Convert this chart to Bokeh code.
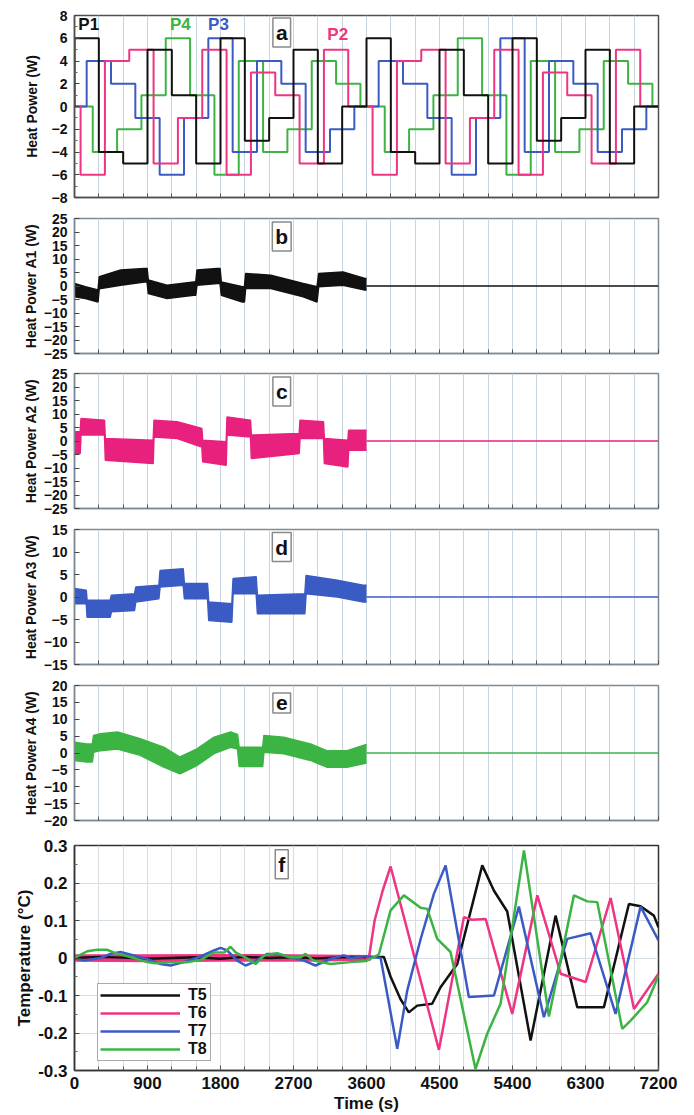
from bokeh.plotting import figure
from bokeh.models import FixedTicker, Label, Legend, LegendItem, PrintfTickFormatter, Range1d
from bokeh.layouts import column
from bokeh.embed import file_html
from bokeh.resources import INLINE

FONT = "Liberation Sans"
BLACK = "#111111"
PINK = "#ee3482"
BLUE = "#3b5bc4"
GREEN = "#3cb444"

# ---------------- data ----------------
# panel a: step heat-power schedules (W), one level per 300 s, each source delayed
step_seconds = 300
p1_levels = [6, -4, -5, 5, 1, -5, 6, -3, -1, 5, -5, 0, 6, -4, -5, 5, 1, -5, 6, -3, -1, 5, -5, 0]
p2_levels = [-6, 4, 5, -5, -1, 5, -6, 3, 1, -5, 5, 0, -6, 4, 5, -5, -1, 5, -6, 3, 1, -5, 5, 0]
p3_levels = [4, 2, -1, -6, -1, 6, -4, 4, 2, -4, -2, 0, 4, 2, -1, -6, -1, 6, -4, 4, 2, -4, -2, 0]
p4_levels = [-4, -2, 1, 6, 1, -6, 4, -4, -2, 4, 2, 0, -4, -2, 1, 6, 1, -6, 4, -4, -2, 4, 2, 0]
p_delays = [0, 75, 150, 225]

# panels b-e: envelope (lower / upper) of the noisy actuator heat power (W)
a1_t = [0, 135, 290, 305, 570, 860, 895, 910, 1140, 1470, 1495, 1510, 1760, 1795, 1810, 2070, 2095, 2110, 2420, 2820, 2990, 3010, 3310, 3580, 3600]
a1_lo = [-4.0, -4.6, -5.9, -1.0, 0.3, 1.5, 1.5, -2.8, -4.6, -3.4, -3.4, 0.3, 0.9, 0.9, -3.4, -5.9, -5.9, -0.9, -0.9, -4.0, -5.9, -0.3, 0.3, -1.5, -1.5]
a1_hi = [0.9, -0.3, -1.5, 3.4, 5.9, 6.5, 6.5, 2.2, 0.3, 1.5, 1.5, 5.9, 6.5, 6.5, 1.5, -0.3, -0.3, 4.6, 4.0, 0.9, -0.3, 4.6, 5.2, 2.8, 2.8]

a2_t = [0, 70, 80, 370, 380, 970, 980, 1266, 1570, 1580, 1870, 1880, 2170, 2180, 2770, 2780, 3070, 3080, 3370, 3380, 3600]
a2_lo = [-4.6, -4.6, 2.2, 2.2, -7.1, -8.3, 1.5, 0.9, -2.2, -7.7, -9.0, 2.2, 1.5, -6.5, -4.6, 0.9, 0.9, -8.3, -9.6, -3.4, -3.4]
a2_hi = [3.4, 3.4, 8.3, 7.7, 0.9, 0.3, 7.7, 7.1, 4.6, 0.3, -0.3, 8.9, 7.7, 2.2, 2.8, 7.7, 7.1, 0.9, 0.3, 4.0, 4.0]

a3_t = [0, 145, 155, 440, 455, 740, 755, 1040, 1055, 1340, 1355, 1640, 1655, 1940, 1955, 2240, 2255, 2840, 2855, 3240, 3560, 3600]
a3_lo = [-1.5, -1.5, -4.5, -4.5, -3.3, -3.0, -1.1, -0.4, 2.2, 2.6, -0.4, -0.4, -5.2, -5.6, 0.7, 0.7, -3.7, -3.7, 0.7, 0.0, -1.1, -1.1]
a3_hi = [1.9, 1.5, -0.7, -0.7, 0.4, 0.7, 2.2, 2.6, 5.9, 6.3, 3.0, 3.0, -1.1, -1.5, 4.1, 4.5, 0.4, 0.7, 4.8, 3.7, 2.6, 2.6]

a4_t = [0, 150, 220, 235, 320, 530, 810, 1100, 1300, 1510, 1720, 1925, 2010, 2030, 2320, 2335, 2580, 2910, 3110, 3360, 3600]
a4_lo = [-2.2, -2.7, -2.7, 0.2, 0.7, 1.2, -0.7, -4.2, -6.2, -3.7, -0.2, 1.7, 1.2, -4.0, -4.0, 0.2, -0.2, -2.2, -4.2, -4.2, -3.0]
a4_hi = [3.2, 2.7, 2.7, 5.2, 5.7, 6.2, 4.2, 1.7, -1.2, 1.2, 4.7, 6.2, 5.5, 1.7, 1.7, 5.2, 4.7, 2.7, 0.7, 0.7, 2.5]

off_t = [3600, 7200]
off_v = [0, 0]

# panel f: temperatures (degC)
t5_t = [0, 300, 600, 900, 1200, 1500, 1800, 2100, 2400, 2700, 3000, 3300, 3600, 3814, 3897, 4020, 4122, 4225, 4410, 4513, 4719, 5027, 5170, 5335, 5623, 5931, 6198, 6527, 6835, 6979, 7143, 7200]
t5_v = [0.0, 0.003, 0.001, -0.002, 0.0, 0.002, -0.002, 0.003, 0.0, 0.002, -0.001, 0.002, 0.003, 0.003, -0.05, -0.11, -0.145, -0.127, -0.122, -0.078, -0.016, 0.247, 0.18, 0.124, -0.22, 0.113, -0.131, -0.131, 0.144, 0.138, 0.113, 0.082]

t6_band_t = [0, 900, 1800, 2700, 3650]
t6_band_lo = [-0.01, -0.011, -0.01, -0.01, -0.008]
t6_band_hi = [0.01, 0.01, 0.011, 0.01, 0.008]
t6_t = [3600, 3630, 3700, 3800, 3897, 4493, 4801, 4900, 5069, 5397, 5706, 5994, 6302, 6610, 6898, 7200]
t6_v = [0.0, 0.0, 0.10, 0.18, 0.244, -0.245, 0.109, 0.102, 0.104, -0.149, 0.167, -0.042, -0.064, 0.16, -0.136, -0.042]

t7_t = [0, 115, 320, 444, 567, 732, 896, 1061, 1184, 1348, 1554, 1719, 1801, 1883, 2006, 2109, 2212, 2376, 2500, 2664,
        2828, 2972, 3157, 3321, 3403, 3600, 3774, 3979, 4102, 4267, 4431, 4575, 4862, 5171, 5479, 5787, 6075, 6363, 6671, 6979, 7200]
t7_v = [0.0, -0.007, 0.0, 0.011, 0.016, 0.007, -0.003, -0.016, -0.02, -0.011, 0.004, 0.02, 0.027, 0.02, -0.007, -0.02, -0.011, 0.011, 0.011, 0.002,
        -0.007, -0.02, -0.002, 0.007, 0.0, 0.005, 0.0, -0.242, -0.087, 0.05, 0.171, 0.247, -0.104, -0.1, 0.137, -0.158, 0.051, 0.066, -0.149, 0.137, 0.047]

t8_t = [0, 156, 280, 400, 506, 732, 896, 1000, 1225, 1400, 1554, 1719, 1850, 1924, 1986, 2120, 2233, 2340, 2500, 2650,
        2788, 2849, 2950, 3157, 3403, 3600, 3753, 3897, 4061, 4267, 4349, 4472, 4636, 4944, 5088, 5253, 5541, 5849, 6157, 6322,
        6445, 6753, 6856, 7061, 7200]
t8_v = [0.0, 0.018, 0.022, 0.022, 0.013, 0.0, -0.011, -0.014, -0.011, -0.011, -0.005, 0.015, 0.015, 0.03, 0.015, 0.0, -0.016, 0.007, 0.013, 0.002,
        0.002, 0.011, -0.007, -0.016, -0.011, -0.008, 0.01, 0.127, 0.167, 0.134, 0.131, 0.051, 0.016, -0.296, -0.202, -0.122, 0.287, -0.156, 0.167, 0.151,
        0.149, -0.189, -0.167, -0.118, -0.047]

x_major = [0, 900, 1800, 2700, 3600, 4500, 5400, 6300, 7200]
x_labels = ["0", "900", "1800", "2700", "3600", "4500", "5400", "6300", "7200"]

# ---------------- helpers ----------------
T_END = 7200
grid_ticks = list(range(0, T_END + 1, 300))


def staircase(levels, delay):
    xs, ys = [0], [0]
    for k, v in enumerate(levels):
        t = delay + step_seconds * k
        if t >= T_END:
            break
        xs.append(t)
        ys.append(v)
    xs.append(T_END)
    ys.append(ys[-1])
    return xs, ys


def panel(frame_h, ylo, yhi, ymaj, ymin, ylabel, top, bottom, outline, show_x=False, lab_standoff=6):
    p = figure(frame_width=584, frame_height=frame_h,
               x_range=Range1d(0, T_END), y_range=Range1d(ylo, yhi),
               output_backend="svg", toolbar_location=None,
               min_border_left=74, min_border_right=26,
               min_border_top=top, min_border_bottom=bottom)
    p.background_fill_color = "white"
    p.border_fill_color = "white"
    p.outline_line_color = outline
    p.outline_line_width = 1.5
    p.xgrid.ticker = FixedTicker(ticks=grid_ticks)
    p.xgrid.grid_line_color = "#c8d5de"
    p.xgrid.grid_line_width = 1
    p.ygrid.visible = False

    xa = p.xaxis[0]
    xa.axis_line_color = outline
    xa.axis_line_width = 1.5
    xa.major_tick_in = 5
    xa.major_tick_out = 0
    xa.minor_tick_in = 4
    xa.minor_tick_out = 0
    xa.major_tick_line_color = "#444444"
    xa.minor_tick_line_color = "#555555"
    if show_x:
        xa.ticker = FixedTicker(ticks=x_major, minor_ticks=grid_ticks)
        xa.major_label_text_font = FONT
        xa.major_label_text_font_style = "bold"
        xa.major_label_text_font_size = "17px"
        xa.major_label_text_color = "#111111"
        xa.major_label_standoff = 6
        xa.major_label_overrides = {v: s for v, s in zip(x_major, x_labels)}
        xa.axis_label = "Time (s)"
        xa.axis_label_text_font = FONT
        xa.axis_label_text_font_style = "bold"
        xa.axis_label_text_font_size = "17px"
        xa.axis_label_text_color = "#111111"
        xa.axis_label_standoff = 2
    else:
        xa.ticker = FixedTicker(ticks=[], minor_ticks=grid_ticks)
        xa.major_label_standoff = 0

    ya = p.yaxis[0]
    ya.ticker = FixedTicker(ticks=ymaj, minor_ticks=ymin)
    ya.axis_line_color = outline
    ya.axis_line_width = 1.5
    ya.major_tick_in = 5
    ya.major_tick_out = 0
    ya.minor_tick_in = 3
    ya.minor_tick_out = 0
    ya.major_tick_line_color = "#444444"
    ya.minor_tick_line_color = "#666666"
    ya.major_label_text_font = FONT
    ya.major_label_text_font_style = "bold"
    ya.major_label_text_font_size = "14px" if not show_x else "17px"
    ya.major_label_text_color = "#111111"
    ya.major_label_standoff = 7
    ya.axis_label = ylabel
    ya.axis_label_text_font = FONT
    ya.axis_label_text_font_style = "bold"
    ya.axis_label_text_font_size = "14px" if not show_x else "17px"
    ya.axis_label_text_color = "#111111"
    ya.axis_label_standoff = lab_standoff
    return p


def box_label(p, x, y, txt):
    p.add_layout(Label(x=x, y=y, text=txt, text_align="center", text_baseline="middle",
                       text_font=FONT, text_font_style="bold", text_font_size="21px",
                       text_color="#111111", background_fill_color="white",
                       border_line_color="#8a8a8a", border_line_width=1.5, padding=3))


def series_label(p, x, y, txt, color):
    p.add_layout(Label(x=x, y=y, text=txt, text_align="center", text_baseline="middle",
                       text_font=FONT, text_font_style="bold", text_font_size="17px",
                       text_color=color))


# ---------------- panel a ----------------
pa = panel(182, -8, 8, [-8, -6, -4, -2, 0, 2, 4, 6, 8], [-7, -5, -3, -1, 1, 3, 5, 7],
           "Heat Power (W)", 15, 10, "#505050", lab_standoff=9)
for levels, delay, col in [(p4_levels, p_delays[3], GREEN), (p3_levels, p_delays[2], BLUE),
                           (p2_levels, p_delays[1], PINK), (p1_levels, p_delays[0], BLACK)]:
    xs, ys = staircase(levels, delay)
    pa.step(xs, ys, mode="after", line_color=col, line_width=2)
series_label(pa, 175, 7.2, "P1", BLACK)
series_label(pa, 1305, 7.25, "P4", GREEN)
series_label(pa, 1775, 7.25, "P3", BLUE)
series_label(pa, 3245, 6.3, "P2", PINK)
box_label(pa, 2555, 6.5, "a")


# ---------------- panels b-e ----------------
def noisy_panel(ylo, yhi, ymaj, ylabel, top, t, lo, hi, col, tag, tag_y):
    p = panel(135, ylo, yhi, ymaj, [], ylabel, top, 10, "#7d8b96", lab_standoff=2)
    p.varea(x=t, y1=lo, y2=hi, fill_color=col)
    p.line(t, lo, line_color=col, line_width=1.5)
    p.line(t, hi, line_color=col, line_width=1.5)
    p.line(off_t, off_v, line_color=col, line_width=1.5)
    box_label(p, 2555, tag_y, tag)
    return p


pb = noisy_panel(-25, 25, [-25, -20, -15, -10, -5, 0, 5, 10, 15, 20, 25], "Heat Power A1 (W)", 11,
                 a1_t, a1_lo, a1_hi, BLACK, "b", 18.3)
pc = noisy_panel(-25, 25, [-25, -20, -15, -10, -5, 0, 5, 10, 15, 20, 25], "Heat Power A2 (W)", 10,
                 a2_t, a2_lo, a2_hi, "#e8207e", "c", 18.3)
pd = noisy_panel(-15, 15, [-15, -10, -5, 0, 5, 10, 15], "Heat Power A3 (W)", 11,
                 a3_t, a3_lo, a3_hi, BLUE, "d", 11.1)
pe = noisy_panel(-20, 20, [-20, -15, -10, -5, 0, 5, 10, 15, 20], "Heat Power A4 (W)", 11,
                 a4_t, a4_lo, a4_hi, GREEN, "e", 14.8)

# ---------------- panel f ----------------
pf = panel(225, -0.3, 0.3, [-0.3, -0.2, -0.1, 0, 0.1, 0.2, 0.3],
           [-0.25, -0.15, -0.05, 0.05, 0.15, 0.25],
           "Temperature (°C)", 15, 37, "#333333", show_x=True, lab_standoff=1)
pf.yaxis[0].formatter = PrintfTickFormatter(format="%g")
pf.ygrid.visible = True
pf.ygrid.ticker = FixedTicker(ticks=[-0.2, -0.1, 0, 0.1, 0.2])
pf.ygrid.grid_line_color = "#d6dee4"
pf.xgrid.grid_line_color = "#d6dee4"

pf.varea(x=t6_band_t, y1=t6_band_lo, y2=t6_band_hi, fill_color=PINK)
r5 = pf.line(t5_t, t5_v, line_color=BLACK, line_width=2.5)
r6 = pf.line(t6_t, t6_v, line_color=PINK, line_width=2.5)
r7 = pf.line(t7_t, t7_v, line_color=BLUE, line_width=2.5)
r8 = pf.line(t8_t, t8_v, line_color=GREEN, line_width=2.5)
box_label(pf, 2555, 0.25, "f")

legend = Legend(items=[LegendItem(label="T5", renderers=[r5]), LegendItem(label="T6", renderers=[r6]),
                       LegendItem(label="T7", renderers=[r7]), LegendItem(label="T8", renderers=[r8])],
                location=(23, 9))
legend.label_text_font = FONT
legend.label_text_font_style = "bold"
legend.label_text_font_size = "16px"
legend.label_text_color = "#111111"
legend.glyph_width = 80
legend.glyph_height = 14
legend.label_height = 14
legend.label_standoff = 8
legend.spacing = 0
legend.padding = 2
legend.margin = 0
legend.border_line_color = "#555555"
legend.border_line_width = 1
legend.background_fill_color = "white"
legend.background_fill_alpha = 1
pf.add_layout(legend)

layout = column(pa, pb, pc, pd, pe, pf, spacing=0)
open("out.html", "w").write(file_html(layout, INLINE))
